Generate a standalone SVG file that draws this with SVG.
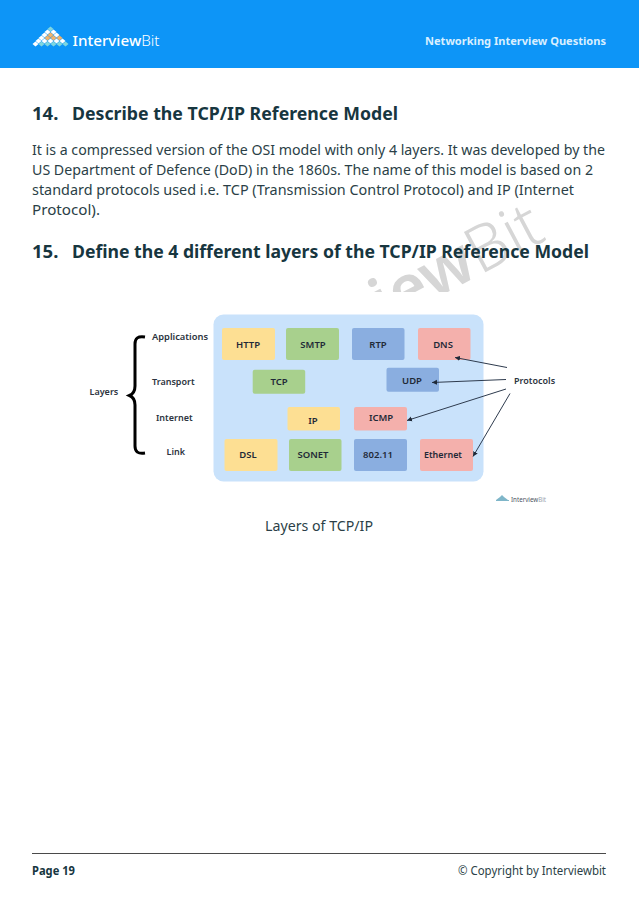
<svg xmlns="http://www.w3.org/2000/svg" width="639" height="905" viewBox="0 0 639 905">
<style>
text{font-family:"Noto Sans","Open Sans","Liberation Sans",sans-serif}
.h{font-size:18.5px;font-weight:700;fill:#17363f}
.b{font-size:14.3px;fill:#2b3f47}
.n{font-size:9.500px;font-weight:600;fill:#1f2937;text-anchor:middle}
.l{font-size:9px;font-weight:600;fill:#2c3440}
.y{fill:#fddf93}.g{fill:#a8d08d}.u{fill:#8aaee0}.r{fill:#f4b0ac}
.c{stroke:#2e3b4e;stroke-width:1;fill:none;marker-end:url(#a)}
.w{fill:#fff}.o{fill:#f2b36b}.t{fill:#7fd6df}
</style>
<defs>
<marker id="a" markerWidth="6" markerHeight="6" refX="5" refY="3" orient="auto" markerUnits="userSpaceOnUse"><path d="M0 .5L5 3L0 5.500Z" fill="#1f2937"/></marker>
<clipPath id="wm"><rect x="0" y="0" width="639" height="292"/></clipPath>
<path id="d" d="M0-2.600L3 0L0 2.600L-3 0Z"/>
</defs>
<rect width="639" height="905" fill="#fff"/>
<g clip-path="url(#wm)"><text transform="translate(354 342) rotate(-28)" font-size="64" fill="#d6d6d6"><tspan font-weight="600">view</tspan><tspan font-weight="300">Bit</tspan></text></g>
<g id="header">
<rect width="639" height="68" fill="#0d95f7"/>
<g id="logo">
<use href="#d" x="50.500" y="29" class="t"/>
<use href="#d" x="47.500" y="32" class="w"/><use href="#d" x="53.500" y="32" class="w"/>
<use href="#d" x="44.500" y="35" class="w"/><use href="#d" x="50.500" y="35" class="o"/><use href="#d" x="56.500" y="35" class="w"/>
<use href="#d" x="41.500" y="38" class="w"/><use href="#d" x="47.500" y="38" class="o"/><use href="#d" x="53.500" y="38" class="o"/><use href="#d" x="59.500" y="38" class="o"/>
<use href="#d" x="38.500" y="41" class="w"/><use href="#d" x="44.500" y="41" class="w"/><use href="#d" x="50.500" y="41" class="w"/><use href="#d" x="56.500" y="41" class="w"/><use href="#d" x="62.500" y="41" class="w"/>
<use href="#d" x="35.500" y="44" class="w"/><use href="#d" x="41.500" y="44" class="t"/><use href="#d" x="47.500" y="44" class="t"/><use href="#d" x="53.500" y="44" class="t"/><use href="#d" x="59.500" y="44" class="t"/><use href="#d" x="65.500" y="44" class="t"/>
</g>
<text x="72.500" y="46" font-size="15.200" fill="#fff" font-weight="500">Interview<tspan font-weight="300">Bit</tspan></text>
<text x="606" y="45" font-size="11" font-weight="700" fill="#d9efff" text-anchor="end" textLength="181" lengthAdjust="spacingAndGlyphs">Networking Interview Questions</text>
</g>
<text class="h" x="32" y="120">14.</text>
<text class="h" x="72" y="120" textLength="326" lengthAdjust="spacingAndGlyphs">Describe the TCP/IP Reference Model</text>
<text class="b" x="32" y="155" textLength="573" lengthAdjust="spacingAndGlyphs">It is a compressed version of the OSI model with only 4 layers. It was developed by the</text>
<text class="b" x="32" y="175" textLength="561" lengthAdjust="spacingAndGlyphs">US Department of Defence (DoD) in the 1860s. The name of this model is based on 2</text>
<text class="b" x="32" y="195" textLength="542" lengthAdjust="spacingAndGlyphs">standard protocols used i.e. TCP (Transmission Control Protocol) and IP (Internet</text>
<text class="b" x="32" y="215" textLength="68" lengthAdjust="spacingAndGlyphs">Protocol).</text>
<text class="h" x="32" y="258">15.</text>
<text class="h" x="72" y="258" textLength="517" lengthAdjust="spacingAndGlyphs">Define the 4 different layers of the TCP/IP Reference Model</text>
<rect id="panel" x="213.500" y="314.500" width="270" height="167" rx="10" fill="#c9e2fb"/>
<g id="http"><rect class="y" x="222" y="328" width="53" height="32" rx="2"/><text class="n" x="248" y="348">HTTP</text></g>
<g id="smtp"><rect class="g" x="286" y="328" width="53" height="32" rx="2"/><text class="n" x="313" y="348">SMTP</text></g>
<g id="rtp"><rect class="u" x="352" y="328" width="52.500" height="32" rx="2"/><text class="n" x="378" y="348">RTP</text></g>
<g id="dns"><rect class="r" x="418" y="328" width="52.500" height="32" rx="2"/><text class="n" x="443" y="348">DNS</text></g>
<g id="tcp"><rect class="g" x="252.700" y="369.700" width="52.500" height="24" rx="2"/><text class="n" x="279" y="385">TCP</text></g>
<g id="udp"><rect class="u" x="386.500" y="367.700" width="52.500" height="24" rx="2"/><text class="n" x="412" y="384">UDP</text></g>
<g id="ip"><rect class="y" x="287.500" y="407" width="52.500" height="23.500" rx="2"/><text class="n" x="313" y="424">IP</text></g>
<g id="icmp"><rect class="r" x="354" y="407" width="53" height="23.500" rx="2"/><text class="n" x="381" y="421">ICMP</text></g>
<g id="dsl"><rect class="y" x="224.500" y="439" width="53" height="32" rx="2"/><text class="n" x="248" y="458">DSL</text></g>
<g id="sonet"><rect class="g" x="289" y="439" width="52.500" height="32" rx="2"/><text class="n" x="313" y="458">SONET</text></g>
<g id="n80211"><rect class="u" x="354" y="439" width="53" height="32" rx="2"/><text class="n" x="378" y="458">802.11</text></g>
<g id="ethernet"><rect class="r" x="420" y="439" width="53" height="32" rx="2"/><text class="n" x="443" y="458" textLength="38" lengthAdjust="spacingAndGlyphs">Ethernet</text></g>
<g id="labels">
<text class="l" x="89.500" y="395">Layers</text>
<text class="l" x="152" y="340" textLength="56" lengthAdjust="spacingAndGlyphs">Applications</text>
<text class="l" x="152" y="384.500">Transport</text>
<text class="l" x="156" y="421">Internet</text>
<text class="l" x="166.500" y="455">Link</text>
<text class="l" x="514" y="384">Protocols</text>
</g>
<path id="brace" d="M145 337C138 336 135 338 135 344L135 386C135 391 133 394 129.500 395.500C133 397 135 400 135 405L135 446C135 452 138 454 145 453" fill="none" stroke="#000" stroke-width="3"/>
<g id="connectors">
<path class="c" d="M507 367.500L455 357.500"/>
<path class="c" d="M506 379.500L432 382.500"/>
<path class="c" d="M506 389L407 420.500"/>
<path class="c" d="M510 393.500L473 456.500"/>
</g>
<g id="small-logo">
<path d="M496 500l4-3 2-2 2 2 4 3zM496 500h13v1h-13z" fill="#7fb6c9"/>
<text x="511" y="501.500" font-size="6.200" fill="#4b5563">Interview<tspan fill="#9aa3ad">Bit</tspan></text>
</g>
<text x="319" y="531" font-size="14.300" fill="#2b3f47" text-anchor="middle" textLength="108" lengthAdjust="spacingAndGlyphs">Layers of TCP/IP</text>
<line x1="32" y1="853.500" x2="606" y2="853.500" stroke="#4a4a4a" stroke-width="1"/>
<text x="32" y="875" font-size="12" font-weight="700" fill="#17363f" textLength="43" lengthAdjust="spacingAndGlyphs">Page 19</text>
<text x="606" y="875" font-size="12" fill="#2b3f47" text-anchor="end" textLength="148" lengthAdjust="spacingAndGlyphs">© Copyright by Interviewbit</text>
</svg>
